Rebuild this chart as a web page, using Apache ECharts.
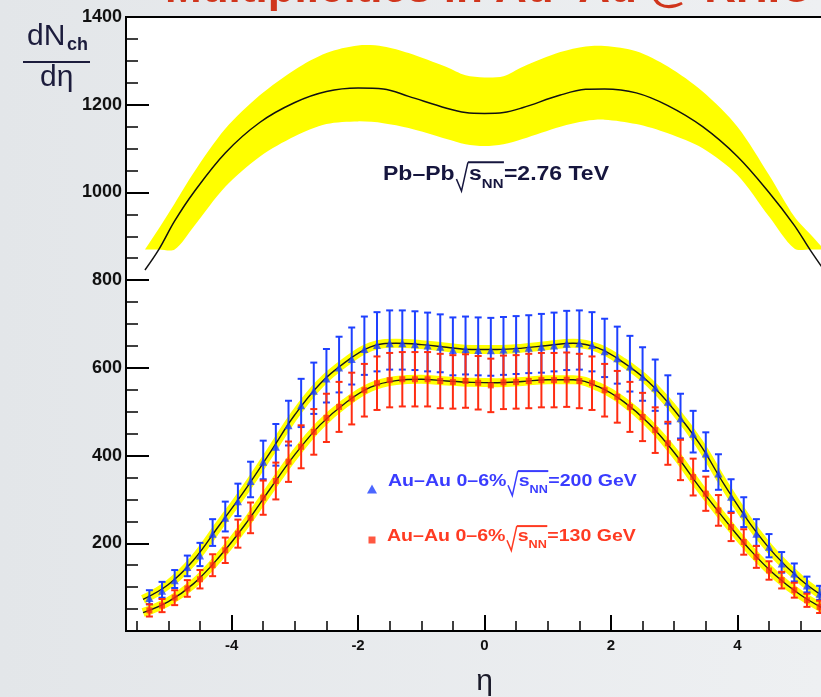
<!DOCTYPE html>
<html>
<head>
<meta charset="utf-8">
<script src="https://cdn.jsdelivr.net/npm/echarts@6.0.0/dist/echarts.min.js"></script>
<style>
html,body{margin:0;padding:0;background:#e9ebee;}
#c{width:821px;height:697px;}
</style>
</head>
<body>
<div id="c"></div>
<script>
// ---------------- DATA ----------------
// Pb-Pb 2.76 TeV expectation: centre curve and band (upper / lower edges)
const pbEta    = [-5.37,-5.15,-4.9,-4.6,-4.1,-3.55,-3.0,-2.5,-2.0,-1.6,-1.2,-0.6,-0.3,0,0.3,0.6,1.2,1.6,1.9,2.4,2.9,3.45,4.0,4.5,4.9,5.15,5.37];
const pbCenter = [823,870,935,1000,1090,1160,1205,1230,1238,1236,1219,1192,1182,1180,1182,1193,1222,1235,1236,1227,1198,1150,1082,1000,925,869,823];
const pbUpper  = [870,918,975,1045,1145,1222,1280,1318,1335,1333,1318,1286,1267,1262,1265,1286,1320,1333,1334,1322,1287,1230,1150,1040,945,905,870];
const pbLower  = [870,870,870,922,1013,1082,1128,1156,1162,1158,1147,1122,1110,1106,1110,1122,1150,1163,1166,1156,1135,1101,1040,945,872,870,870];

// Fit curves through the Au-Au data
const fitEta  = [-5.4,-5.0,-4.6,-4.2,-3.8,-3.4,-3.0,-2.6,-2.2,-1.8,-1.4,-1.0,-0.6,-0.2,0.2,0.6,1.0,1.4,1.8,2.2,2.6,3.0,3.4,3.8,4.2,4.6,5.0,5.4];
const blueFit = [72,106,162,240,319,405,493,564,613,648,656,653,647,642,642,645,651,656,645,612,567,504,427,332,245,173,117,75];
const redFit  = [42,67,108,168,240,322,402,470,520,556,571,574,570,567,566,569,573,573,557,523,473,407,328,254,185,127,82,48];

// Au-Au 0-6% data points
const auEta = [-5.3,-5.1,-4.9,-4.7,-4.5,-4.3,-4.1,-3.9,-3.7,-3.5,-3.3,-3.1,-2.9,-2.7,-2.5,-2.3,-2.1,-1.9,-1.7,-1.5,-1.3,-1.1,-0.9,-0.7,-0.5,-0.3,-0.1,
               0.1,0.3,0.5,0.7,0.9,1.1,1.3,1.5,1.7,1.9,2.1,2.3,2.5,2.7,2.9,3.1,3.3,3.5,3.7,3.9,4.1,4.3,4.5,4.7,4.9,5.1,5.3];
const blueVals  = [75,92,116,146,172,222,258,296,342,386,420,469,515,548,576,601,620,643,652,656,656,654,651,648,641,643,641,
                   640,642,644,646,648,651,655,656,652,638,622,603,580,555,523,485,450,405,359,306,268,222,192,154,131,104,85];
const blueErrUp = [18,20,23,26,29,33,37,40,44,48,52,56,60,64,67,70,72,74,75,75,75,75,75,74,74,74,74,
                   74,74,74,74,75,75,75,75,75,74,72,70,67,64,60,56,52,48,44,40,37,33,29,26,23,20,18];
const blueErrDn = [14,16,18,21,24,28,31,34,37,40,43,46,50,53,55,57,58,59,60,60,60,59,59,58,58,58,58,
                   58,58,58,58,59,59,60,60,60,59,58,57,55,53,50,46,43,40,37,34,31,28,24,21,18,16,14];
const redVals   = [47,58,76,97,118,150,184,222,258,304,342,386,420,454,486,511,530,549,565,572,574,574,574,570,568,570,566,
                   560,567,568,570,572,572,573,570,565,549,534,511,488,458,428,390,351,313,275,237,203,169,138,116,93,70,55];
const redErr    = [14,15,17,19,21,25,29,32,35,39,42,46,49,52,55,57,59,60,61,62,62,62,62,62,61,61,61,
                   61,61,61,62,62,62,62,62,61,60,59,57,55,52,49,46,42,39,35,32,29,25,21,19,17,15,14];

// Tick labels / positions
const xMajorTicks = [-4,-2,0,2,4];
const xMinorTicks = [-5.5,-5,-4.5,-3.5,-3,-2.5,-1.5,-1,-0.5,0.5,1,1.5,2.5,3,3.5,4.5,5,5.5];

const BLUE_NAME = 'Au–Au 0–6% √sNN=200 GeV';
const RED_NAME  = 'Au–Au 0–6% √sNN=130 GeV';

// ---------------- HELPERS ----------------
const FAM = '"Liberation Sans", Arial, sans-serif';
const mctx = document.createElement('canvas').getContext('2d');
function tw(text, size, weight){ mctx.font = weight + ' ' + size + 'px ' + FAM; return mctx.measureText(text).width; }

function rootLabel(o){
  const s = o.size, subSize = Math.round(s*0.64);
  const wPre = tw(o.pre, s, 'bold');
  const r0 = wPre + s*0.08, r1 = r0 + s*0.22, r2 = r0 + s*0.5;
  const sX = r2 + s*0.05;
  const subX = sX + tw('s', s, 'bold');
  const postX = subX + tw(o.sub, subSize, 'bold') + s*0.02;
  const ovY = -s*0.716 - s*0.22;
  const txt = (t, x, y, size) => ({type:'text', x:x, y:y, style:{text:t, fontSize:size, fontWeight:'bold', fontFamily:FAM, fill:o.color, verticalAlign:'middle'}});
  return {type:'group', x:o.x, y:o.y, scaleX:o.sx, children:[
    txt(o.pre, 0, -s*0.35, s),
    {type:'polyline', shape:{points:[[r0,-s*0.1],[r1,s*0.5],[r2,ovY]]}, style:{stroke:o.color, lineWidth:1.3, fill:null}},
    {type:'line', shape:{x1:r2, y1:ovY, x2:postX, y2:ovY}, style:{stroke:o.color, lineWidth:2}},
    txt('s', sX, -s*0.35, s),
    txt(o.sub, subX, s*0.4 - subSize*0.35, subSize),
    txt(o.post, postX, -s*0.35, s)
  ]};
}

function errRenderer(color){
  return function(params, api){
    const x = api.value(0);
    const pLo = api.coord([x, api.value(1)]);
    const pHi = api.coord([x, api.value(2)]);
    const cap = 3.5;
    const st = {stroke:color, lineWidth:2};
    return {type:'group', children:[
      {type:'line', shape:{x1:pLo[0], y1:pLo[1], x2:pHi[0], y2:pHi[1]}, style:st},
      {type:'line', shape:{x1:pHi[0]-cap, y1:pHi[1], x2:pHi[0]+cap, y2:pHi[1]}, style:st},
      {type:'line', shape:{x1:pLo[0]-cap, y1:pLo[1], x2:pLo[0]+cap, y2:pLo[1]}, style:st}
    ]};
  };
}

// Band polygon: upper edge forward, lower edge backward, through the axis scales
function bandRenderer(color){
  return function(params, api){
    if (params.dataIndex !== 0) return null;
    const up = pbEta.map((e, i) => api.coord([e, pbUpper[i]]));
    const lo = pbEta.map((e, i) => api.coord([e, pbLower[i]])).reverse();
    return {type:'polygon', shape:{points:up.concat(lo), smooth:0.3}, style:{fill:color}};
  };
}

const zip = (xs, ys) => xs.map((x, i) => [x, ys[i]]);

// ---------------- CHART ----------------
const chart = echarts.init(document.getElementById('c'), null, {renderer:'canvas'});
const X_MIN = -5.67, X_MAX = 5.67;
const BLUE = '#1e40ff', RED = '#ff2d12', YEL = '#ffff00';

const option = {
  animation:false,
  backgroundColor:{type:'linear', x:0, y:0, x2:1, y2:0, colorStops:[{offset:0,color:'#e3e6e9'},{offset:1,color:'#eef0f2'}]},
  grid:{left:126, width:717, top:17, bottom:66, outerBoundsMode:'none', containLabel:false,
        show:true, backgroundColor:'#ffffff', borderColor:'#000', borderWidth:2},
  xAxis:[
    {type:'value', min:X_MIN, max:X_MAX, position:'bottom',
     axisLine:{show:true, onZero:false, lineStyle:{color:'#000', width:2}},
     axisTick:{show:true, inside:true, length:16, customValues:xMajorTicks, lineStyle:{color:'#000', width:2}},
     axisLabel:{show:true, customValues:xMajorTicks, formatter:v => String(v), fontSize:15, fontWeight:'bold', fontFamily:FAM, color:'#111', margin:7},
     splitLine:{show:false},
     name:'η', nameLocation:'middle', nameGap:36, nameTextStyle:{fontSize:30, color:'#1a1a2a', fontFamily:FAM}},
    {type:'value', min:X_MIN, max:X_MAX, position:'bottom',
     axisLine:{show:false, onZero:false},
     axisTick:{show:true, inside:true, length:10, customValues:xMinorTicks, lineStyle:{color:'#000', width:1.5}},
     axisLabel:{show:false}, splitLine:{show:false}}
  ],
  yAxis:{type:'value', min:0, max:1400, interval:200,
     axisLine:{show:true, onZero:false, lineStyle:{color:'#000', width:2}},
     axisTick:{show:true, inside:true, length:23, lineStyle:{color:'#000', width:2}},
     minorTick:{show:true, splitNumber:4, length:12, lineStyle:{color:'#000', width:1.5}},
     axisLabel:{formatter:v => v === 0 ? '' : String(v), fontSize:18, fontWeight:'bold', fontFamily:FAM, color:'#111', margin:4},
     splitLine:{show:false}, minorSplitLine:{show:false}},
  legend:[
    {data:[{name:BLUE_NAME, icon:'triangle'}], left:367, top:484.5, padding:0, itemWidth:10, itemHeight:9,
     formatter:() => '', textStyle:{fontSize:1}, selectedMode:false},
    {data:[{name:RED_NAME, icon:'rect'}], left:368.5, top:536.5, padding:0, itemWidth:7, itemHeight:7,
     formatter:() => '', textStyle:{fontSize:1}, selectedMode:false}
  ],
  series:[
    {type:'custom', name:'pbBand', renderItem:bandRenderer(YEL), encode:{x:0, y:[1,2]},
     data:pbEta.map((e,i)=>[e, pbUpper[i], pbLower[i]]), silent:true, z:1},
    {type:'line', name:'pbCenter', data:zip(pbEta, pbCenter), smooth:0.35, symbol:'none',
     lineStyle:{color:'#111', width:1.5}, silent:true, z:2},
    {type:'line', name:'blueHalo', data:zip(fitEta, blueFit), smooth:0.4, symbol:'none',
     lineStyle:{color:YEL, width:9}, silent:true, z:3},
    {type:'line', name:'redHalo', data:zip(fitEta, redFit), smooth:0.4, symbol:'none',
     lineStyle:{color:YEL, width:9}, silent:true, z:3},
    {type:'custom', name:'blueErr', renderItem:errRenderer(BLUE), encode:{x:0, y:[1,2]},
     data:auEta.map((e,i)=>[e, blueVals[i]-blueErrDn[i], blueVals[i]+blueErrUp[i]]), silent:true, z:4},
    {type:'custom', name:'redErr', renderItem:errRenderer(RED), encode:{x:0, y:[1,2]},
     data:auEta.map((e,i)=>[e, redVals[i]-redErr[i], redVals[i]+redErr[i]]), silent:true, z:4},
    {type:'line', name:'blueFit', data:zip(fitEta, blueFit), smooth:0.4, symbol:'none',
     lineStyle:{color:'#1a1a1a', width:1.4}, silent:true, z:5},
    {type:'line', name:'redFit', data:zip(fitEta, redFit), smooth:0.4, symbol:'none',
     lineStyle:{color:'#1a1a1a', width:1.4}, silent:true, z:5},
    {type:'scatter', name:BLUE_NAME, data:zip(auEta, blueVals), symbol:'triangle', symbolSize:8,
     itemStyle:{color:BLUE}, z:6},
    {type:'scatter', name:RED_NAME, data:zip(auEta, redVals), symbol:'rect', symbolSize:6,
     itemStyle:{color:RED}, z:6}
  ],
  graphic:[
    {type:'text', x:165, y:5 - 44*0.35, silent:true,
     style:{text:'Multiplicities in Au–Au @ RHIC', fontSize:44, fontWeight:'bold', fontFamily:FAM, fill:'#d0351c', verticalAlign:'middle'}},
    {type:'text', x:27, y:47 - 30*0.35, style:{text:'dN', fontSize:30, fontFamily:FAM, fill:'#1c1c3c', verticalAlign:'middle'}},
    {type:'text', x:67, y:51 - 18*0.35, style:{text:'ch', fontSize:18, fontWeight:'bold', fontFamily:FAM, fill:'#1c1c3c', verticalAlign:'middle'}},
    {type:'line', shape:{x1:23, y1:62, x2:90, y2:62}, style:{stroke:'#1c1c3c', lineWidth:2}},
    {type:'text', x:40, y:88 - 30*0.35, style:{text:'dη', fontSize:30, fontFamily:FAM, fill:'#1c1c3c', verticalAlign:'middle'}},
    rootLabel({x:383, y:181, size:20, sx:1.15, color:'#16163e', pre:'Pb–Pb', sub:'NN', post:'=2.76 TeV'}),
    rootLabel({x:388, y:487, size:17, sx:1.15, color:'#3a3cff', pre:'Au–Au 0–6%', sub:'NN', post:'=200 GeV'}),
    rootLabel({x:387, y:542, size:17, sx:1.15, color:'#ff3b22', pre:'Au–Au 0–6%', sub:'NN', post:'=130 GeV'})
  ]
};
chart.setOption(option);
</script>
</body>
</html>
